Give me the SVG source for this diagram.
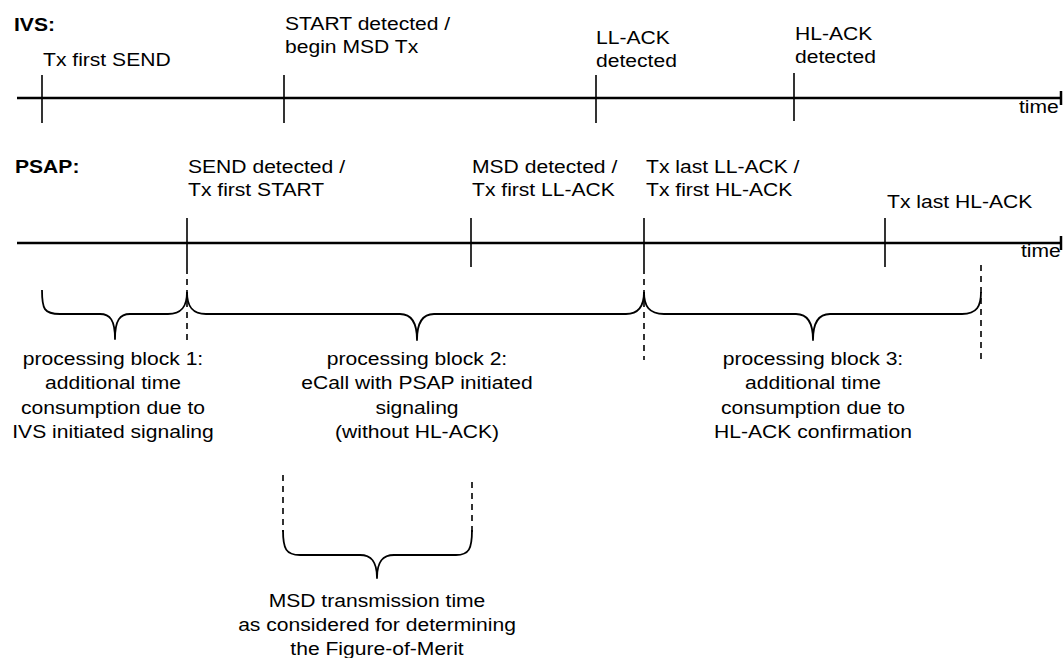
<svg xmlns="http://www.w3.org/2000/svg" width="1064" height="658" viewBox="0 0 1064 658">
<style>
text{font-family:"Liberation Sans",Arial,sans-serif;font-size:18.5px;fill:#000}
.b{font-weight:bold}
.c{text-anchor:middle}
.axis{stroke:#000;stroke-width:2.5;fill:none}
.tick{stroke:#000;stroke-width:1.6;fill:none}
.dash{stroke:#000;stroke-width:1.6;stroke-dasharray:6 5;fill:none}
.brace{stroke:#000;stroke-width:1.8;fill:none;stroke-linejoin:round}
</style>
<rect width="1064" height="658" fill="#fff"/>

<g id="ivs-axis">
<line class="axis" x1="17" y1="98" x2="1061" y2="98"/>
<line class="axis" x1="1061" y1="91" x2="1061" y2="105"/>
<text transform="translate(1019 113) scale(1.14 1)">time</text>
<text class="b" transform="translate(14 31) scale(1.14 1)">IVS:</text>
</g>

<g id="ivs-send">
<line class="tick" x1="42" y1="75" x2="42" y2="123"/>
<text transform="translate(43 66) scale(1.14 1)">Tx first SEND</text>
</g>
<g id="ivs-start">
<line class="tick" x1="284" y1="75" x2="284" y2="123"/>
<text transform="translate(285 30) scale(1.14 1)">START detected /<tspan x="0" dy="23">begin MSD Tx</tspan></text>
</g>
<g id="ivs-llack">
<line class="tick" x1="596" y1="75" x2="596" y2="123"/>
<text transform="translate(596 44) scale(1.14 1)">LL-ACK<tspan x="0" dy="23">detected</tspan></text>
</g>
<g id="ivs-hlack">
<line class="tick" x1="794" y1="73" x2="794" y2="121"/>
<text transform="translate(795 40) scale(1.14 1)">HL-ACK<tspan x="0" dy="23">detected</tspan></text>
</g>

<g id="psap-axis">
<line class="axis" x1="17" y1="243" x2="1061" y2="243"/>
<line class="axis" x1="1061" y1="236" x2="1061" y2="250"/>
<text transform="translate(1021 257) scale(1.14 1)">time</text>
<text class="b" transform="translate(15 173) scale(1.14 1)">PSAP:</text>
</g>

<g id="psap-send">
<line class="tick" x1="187" y1="218" x2="187" y2="268"/>
<text transform="translate(188 173) scale(1.14 1)">SEND detected /<tspan x="0" dy="23">Tx first START</tspan></text>
</g>
<g id="psap-msd">
<line class="tick" x1="471" y1="218" x2="471" y2="267"/>
<text transform="translate(472 173) scale(1.14 1)">MSD detected /<tspan x="0" dy="23">Tx first LL-ACK</tspan></text>
</g>
<g id="psap-llack">
<line class="tick" x1="644" y1="218" x2="644" y2="268"/>
<text transform="translate(646 173) scale(1.14 1)">Tx last LL-ACK /<tspan x="0" dy="23">Tx first HL-ACK</tspan></text>
</g>
<g id="psap-hlack">
<line class="tick" x1="885" y1="218" x2="885" y2="267"/>
<text transform="translate(887 208) scale(1.14 1)">Tx last HL-ACK</text>
</g>

<g id="connectors">
<line class="dash" x1="187" y1="268" x2="187" y2="340"/>
<line class="dash" x1="644" y1="268" x2="644" y2="360"/>
<line class="dash" x1="981" y1="265" x2="981" y2="360"/>
<line class="dash" x1="283" y1="475" x2="283" y2="532"/>
<line class="dash" x1="472" y1="482" x2="472" y2="532"/>
</g>

<g id="block1">
<path class="brace" d="M42 290 C42 309 44 314 60 314 L100 314 C110 314 115 320 115 339 C115 320 120 314 130 314 L168 314 C182 314 187 306 187 292"/>
<text class="c" transform="translate(113 365) scale(1.14 1)">processing block 1:<tspan x="0" dy="24.3">additional time</tspan><tspan x="0" dy="24.3">consumption due to</tspan><tspan x="0" dy="24.3">IVS initiated signaling</tspan></text>
</g>
<g id="block2">
<path class="brace" d="M187 292 C187 306 192 314 206 314 L400 314 C410 314 417 320 417 340 C417 320 424 314 434 314 L626 314 C639 314 644 306 644 292"/>
<text class="c" transform="translate(417 365) scale(1.14 1)">processing block 2:<tspan x="0" dy="24.3">eCall with PSAP initiated</tspan><tspan x="0" dy="24.3">signaling</tspan><tspan x="0" dy="24.3">(without HL-ACK)</tspan></text>
</g>
<g id="block3">
<path class="brace" d="M644 292 C644 306 649 314 664 314 L796 314 C806 314 813 320 813 340 C813 320 820 314 830 314 L962 314 C977 314 981 306 981 292"/>
<text class="c" transform="translate(813 365) scale(1.14 1)">processing block 3:<tspan x="0" dy="24.3">additional time</tspan><tspan x="0" dy="24.3">consumption due to</tspan><tspan x="0" dy="24.3">HL-ACK confirmation</tspan></text>
</g>
<g id="msd-time">
<path class="brace" d="M283 530 C283 549 286 555 300 555 L360 555 C370 555 377 560 377 578 C377 560 384 555 394 555 L456 555 C469 555 472 549 472 530"/>
<text class="c" transform="translate(377 607) scale(1.14 1)">MSD transmission time<tspan x="0" dy="24">as considered for determining</tspan><tspan x="0" dy="24">the Figure-of-Merit</tspan></text>
</g>
</svg>
